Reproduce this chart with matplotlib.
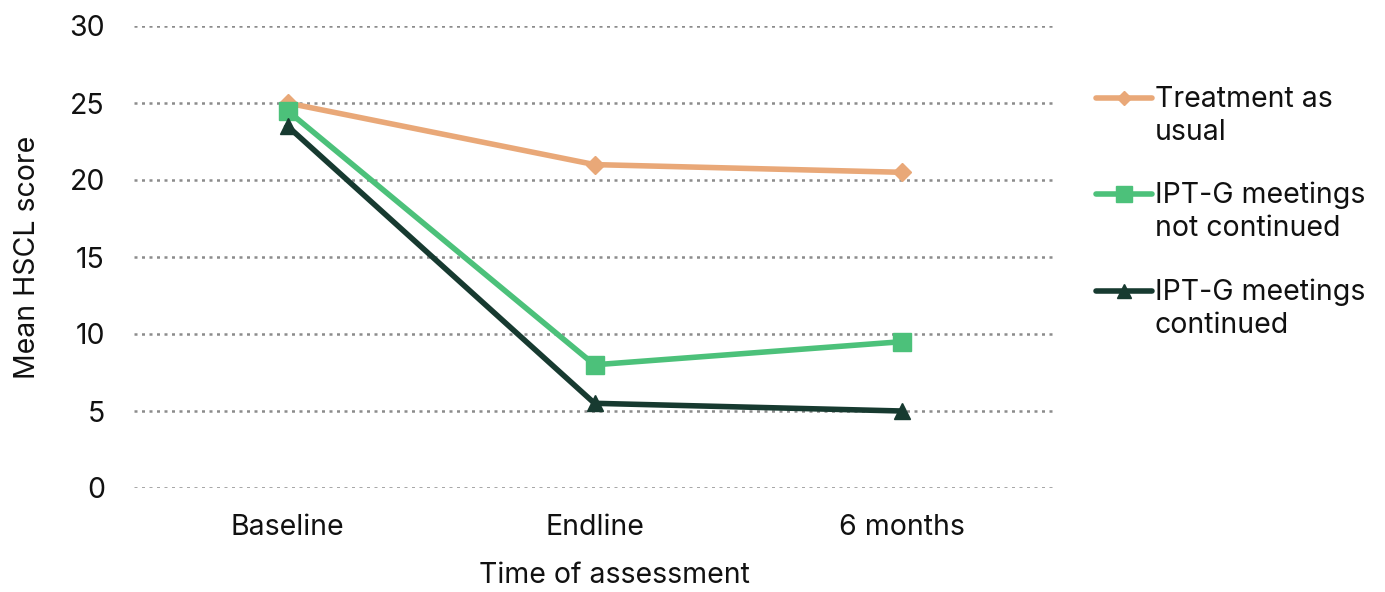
import matplotlib
matplotlib.use("Agg")
import matplotlib.pyplot as plt
from matplotlib.lines import Line2D

categories = ["Baseline", "Endline", "6 months"]
treatment_as_usual = [25.0, 21.0, 20.5]
iptg_not_continued = [24.5, 8.0, 9.5]
iptg_continued = [23.5, 5.5, 5.0]
series_labels = ["Treatment as\nusual", "IPT-G meetings\nnot continued", "IPT-G meetings\ncontinued"]
y_ticks = [0, 5, 10, 15, 20, 25, 30]

plt.rcParams["font.family"] = ["Inter", "DejaVu Sans"]
TEXT = "#111111"
FS = 20.5

W, H = 1385, 592
fig = plt.figure(figsize=(W / 100, H / 100), dpi=100)
ax = fig.add_axes([134 / W, 1 - 488 / H, (1055 - 134) / W, (488 - 26) / H])

styles = [
    dict(color="#E9A878", marker="D", ms=9, legend_ms=7),
    dict(color="#4CC17A", marker="s", ms=13, legend_ms=11),
    dict(color="#173A30", marker="^", ms=12, legend_ms=10),
]
series = [treatment_as_usual, iptg_not_continued, iptg_continued]

x = list(range(len(categories)))
for i, (vals, st) in enumerate(zip(series, styles)):
    ax.plot(x, vals, color=st["color"], lw=4, marker=st["marker"], ms=st["ms"],
            zorder=3 + i)

ax.set_xlim(-0.5, 2.5)
ax.set_ylim(0, 30)
ax.set_yticks(y_ticks)
ax.set_xticks(x)
ax.set_xticklabels(categories)
ax.yaxis.grid(True, color="#8C8C8C", linestyle=(0, (1.2, 1.8)), lw=1.8)
ax.set_axisbelow(True)
for s in ax.spines.values():
    s.set_visible(False)
ax.tick_params(axis="both", length=0, labelsize=FS, colors=TEXT)
ax.tick_params(axis="y", pad=21)
ax.tick_params(axis="x", pad=19)
ax.set_ylabel("Mean HSCL score", fontsize=FS, labelpad=20, color=TEXT)
ax.set_xlabel("Time of assessment", fontsize=FS, color=TEXT)
ax.xaxis.set_label_coords(0.522, -0.16)

# Legend: handle aligned with the first line of each wrapped label
legend_rows = [98, 194, 291]
for label, st, row in zip(series_labels, styles, legend_rows):
    y = 1 - row / H
    fig.add_artist(Line2D([1096 / W, 1152 / W], [y, y], transform=fig.transFigure,
                          color=st["color"], lw=4, solid_capstyle="round"))
    fig.add_artist(Line2D([1124 / W], [y], transform=fig.transFigure,
                          color=st["color"], marker=st["marker"], ms=st["legend_ms"],
                          lw=0))
    fig.text(1155 / W, y + 12 / H, label, fontsize=FS, color=TEXT, va="top",
             ha="left", linespacing=1.27, transform=fig.transFigure)

fig.savefig("out.png", dpi=100)
